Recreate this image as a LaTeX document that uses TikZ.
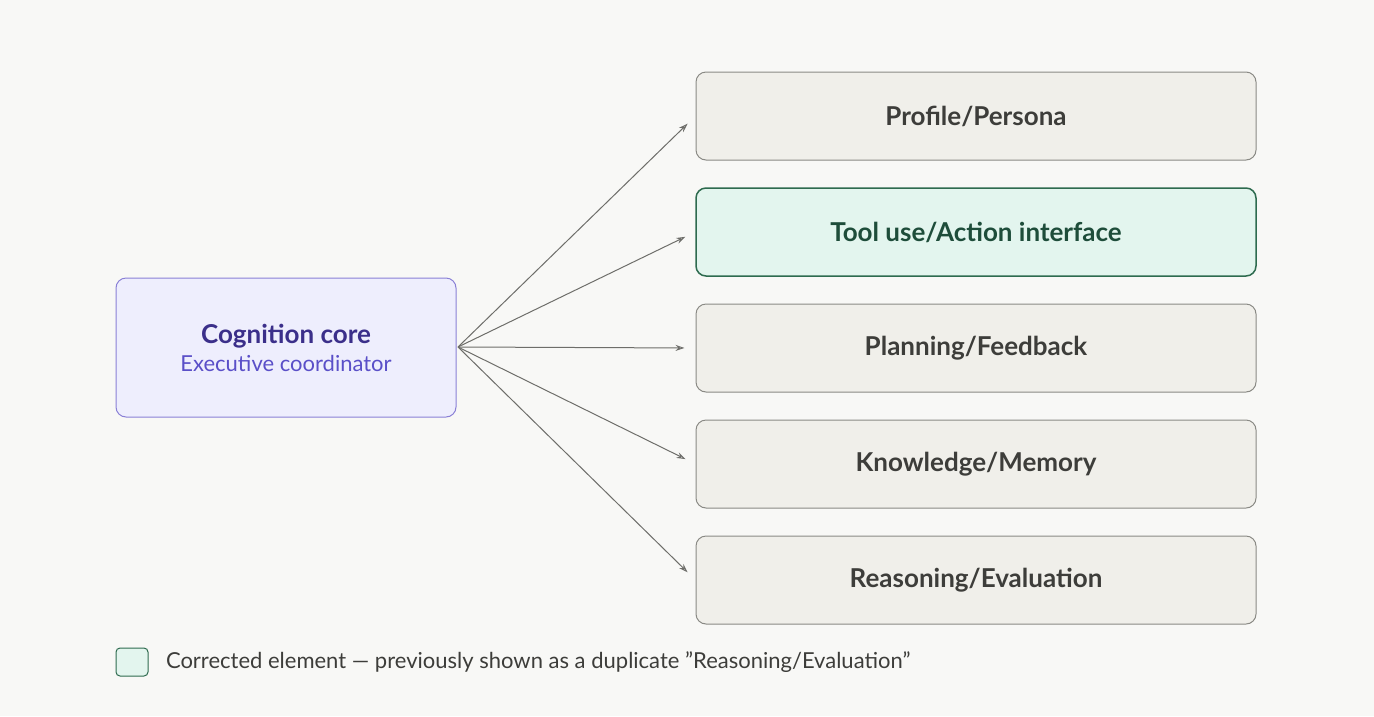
\documentclass[tikz,border=0pt]{standalone}
\usepackage{fontspec}
\setmainfont{Lato}
\usetikzlibrary{positioning,arrows.meta}
\definecolor{bgcol}{HTML}{F8F8F6}
\definecolor{boxfill}{HTML}{F0EFEA}
\definecolor{boxdraw}{HTML}{8A8A85}
\definecolor{boxtext}{HTML}{3D3D3A}
\definecolor{greenfill}{HTML}{E3F5EE}
\definecolor{greendraw}{HTML}{2E6B4F}
\definecolor{greentext}{HTML}{1E4D3A}
\definecolor{corefill}{HTML}{EEEEFD}
\definecolor{coredraw}{HTML}{8A80D6}
\definecolor{coretitle}{HTML}{3B2F8A}
\definecolor{coresub}{HTML}{5A4FC8}
\definecolor{arrowcol}{HTML}{6E6E6A}
\begin{document}
\begin{tikzpicture}[x=1pt,y=-1pt,
  modulenode/.style={rectangle, rounded corners=10pt, draw=boxdraw, fill=boxfill, line width=1pt,
    minimum width=560pt, minimum height=88pt, text=boxtext, font=\fontsize{26}{30}\selectfont\bfseries},
  fixednode/.style={modulenode, draw=greendraw, fill=greenfill, text=greentext, line width=1.5pt},
  corenode/.style={rectangle, rounded corners=10pt, draw=coredraw, fill=corefill, line width=1pt,
    minimum width=340pt, minimum height=139pt, align=center},
  linkarrow/.style={-{Stealth[length=9pt,width=6pt,open]}, draw=arrowcol, line width=1pt, shorten >=11pt}
  ]
  \fill[bgcol] (0,0) rectangle (1374,716);
  % Core
  \node[corenode] (core) at (286,347.5) {{\fontsize{26}{30}\selectfont\bfseries\color{coretitle}Cognition core}\\[6pt]
    {\fontsize{22}{26}\selectfont\color{coresub}Executive coordinator}};
  \coordinate (hub) at (458,347);
  % Modules
  \node[modulenode] (profile)   at (976,116) {Profile/Persona};
  \node[fixednode]  (tool)      at (976,232) {Tool use/Action interface};
  \node[modulenode] (planning)  at (976,348) {Planning/Feedback};
  \node[modulenode] (knowledge) at (976,464) {Knowledge/Memory};
  \node[modulenode] (reasoning) at (976,580) {Reasoning/Evaluation};
  % Links
  \foreach \m in {profile,tool,planning,knowledge,reasoning}
    \draw[linkarrow] (hub) -- (\m.west);
  % Legend
  \node[rectangle, rounded corners=4pt, draw=greendraw, fill=greenfill, line width=1pt,
    minimum width=32pt, minimum height=28pt] (key) at (132,662) {};
  \node[anchor=west, text=boxtext, font=\fontsize{22}{26}\selectfont] (keytext) [right=14pt of key]
    {Corrected element — previously shown as a duplicate ”Reasoning/Evaluation”};
\end{tikzpicture}
\end{document}
